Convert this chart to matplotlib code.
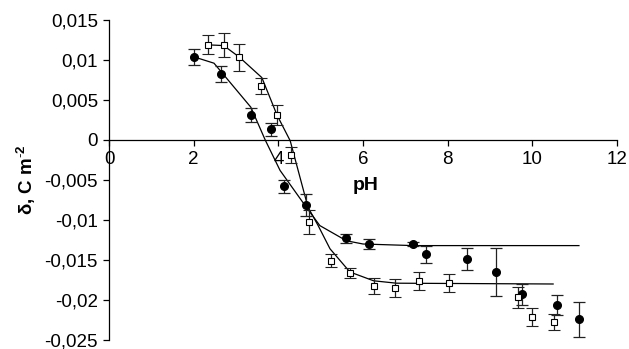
import matplotlib
matplotlib.use("Agg")
import matplotlib.pyplot as plt
from matplotlib.ticker import FuncFormatter

plt.rcParams['font.family'] = ['Liberation Sans', 'DejaVu Sans']
plt.rcParams['mathtext.fontset'] = 'custom'
plt.rcParams['mathtext.rm'] = 'Liberation Sans'
plt.rcParams['mathtext.bf'] = 'Liberation Sans:bold'

# Series A (filled circles)
ph_a = [2.01, 2.64, 3.35, 3.82, 4.14, 4.66, 5.59, 6.13, 7.19, 7.49, 8.46, 9.13, 9.76, 10.58, 11.09]
d_a = [0.0104, 0.0082, 0.0031, 0.00135, -0.0058, -0.0081, -0.0123, -0.0130, -0.0130, -0.0143, -0.0149, -0.0165, -0.0193, -0.0206, -0.0224]
e_a = [0.0010, 0.0010, 0.0009, 0.0008, 0.0008, 0.0014, 0.0006, 0.0006, 0.0003, 0.0011, 0.0014, 0.0030, 0.0013, 0.00125, 0.0022]

# Series B (open squares)
ph_b = [2.33, 2.71, 3.08, 3.59, 3.96, 4.31, 4.72, 5.24, 5.69, 6.25, 6.75, 7.33, 8.04, 9.65, 10.0, 10.5]
d_b = [0.0119, 0.01185, 0.01035, 0.0067, 0.0031, -0.0019, -0.0102, -0.0151, -0.0166, -0.0182, -0.0185, -0.01765, -0.0179, -0.01965, -0.0221, -0.0228]
e_b = [0.0012, 0.0015, 0.0017, 0.0010, 0.00125, 0.0010, 0.0015, 0.0008, 0.0006, 0.0010, 0.0011, 0.0011, 0.0011, 0.0013, 0.0011, 0.0010]

# Fit curves
fit_a_x = [2.0, 2.48, 3.35, 3.69, 4.04, 4.66, 4.98, 5.61, 6.0, 7.19, 11.1]
fit_a_y = [0.0104, 0.0096, 0.0041, 0.0, -0.0038, -0.0084, -0.0107, -0.0126, -0.0130, -0.0132, -0.0132]
fit_b_x = [2.32, 2.71, 3.08, 3.61, 3.97, 4.28, 4.70, 4.94, 5.22, 5.69, 6.25, 6.79, 10.49]
fit_b_y = [0.0119, 0.0118, 0.01035, 0.0078, 0.0031, -0.0001, -0.0084, -0.0107, -0.0136, -0.0165, -0.0176, -0.0179, -0.0180]

xticks = [0, 2, 4, 6, 8, 10, 12]
yticks = [-0.025, -0.02, -0.015, -0.01, -0.005, 0, 0.005, 0.01, 0.015]

fig = plt.figure(figsize=(6.29, 3.49), dpi=100)
ax = fig.add_axes([0.1733, 0.0258, 0.8077, 0.9169])

ax.plot(fit_a_x, fit_a_y, color='black', lw=0.9, zorder=2)
ax.plot(fit_b_x, fit_b_y, color='black', lw=0.9, zorder=2)

ax.errorbar(ph_a, d_a, yerr=e_a, fmt='o', ms=5.5, mfc='black', mec='black',
            ecolor='#222222', elinewidth=0.9, capsize=4, capthick=0.9, zorder=3)
ax.errorbar(ph_b, d_b, yerr=e_b, fmt='s', ms=5, mfc='white', mec='black', mew=0.8,
            ecolor='#222222', elinewidth=0.9, capsize=4, capthick=0.9, zorder=3)

ax.set_xlim(0, 12)
ax.set_ylim(-0.025, 0.015)
ax.set_xticks(xticks)
ax.set_yticks(yticks)

def fmt(v, pos):
    if abs(v) < 1e-12:
        return '0'
    s = ('%.3f' % v).rstrip('0').rstrip('.')
    return s.replace('.', ',')

ax.yaxis.set_major_formatter(FuncFormatter(fmt))
ax.xaxis.set_major_formatter(FuncFormatter(lambda v, p: '%d' % v))

ax.spines['top'].set_visible(False)
ax.spines['right'].set_visible(False)
ax.spines['bottom'].set_position(('data', 0))
ax.spines['left'].set_linewidth(0.9)
ax.spines['bottom'].set_linewidth(0.9)
ax.tick_params(axis='both', direction='out', length=4, width=0.9, labelsize=13.5, colors='black')
ax.tick_params(axis='x', pad=4)
ax.tick_params(axis='y', pad=4)

ax.text(6.05, -0.0057, 'pH', fontsize=14, fontweight='bold', ha='center', va='center')
fig.text(26 / 629, 1 - 180 / 349, r'δ, C m$^{\mathbf{\text{-}2}}$', rotation=90, fontsize=13.5,
         fontweight='bold', ha='center', va='center')

fig.savefig('out.png', dpi=100)
